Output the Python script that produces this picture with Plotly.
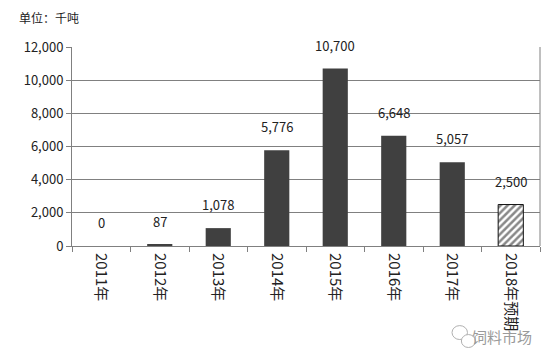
import plotly.graph_objects as go

categories = ["2011年", "2012年", "2013年", "2014年", "2015年", "2016年", "2017年", "2018年预期"]
values = [0, 87, 1078, 5776, 10700, 6648, 5057, 2500]
value_labels = ["0", "87", "1,078", "5,776", "10,700", "6,648", "5,057", "2,500"]
y_ticks = [0, 2000, 4000, 6000, 8000, 10000, 12000]
y_tick_text = ["0", "2,000", "4,000", "6,000", "8,000", "10,000", "12,000"]

FONT = "Noto Sans CJK SC, Liberation Sans, sans-serif"

fig = go.Figure()

# solid bars (actual years)
fig.add_trace(go.Bar(
    x=categories[:-1], y=values[:-1],
    marker=dict(color="#404040", line=dict(width=0)),
    width=0.43,
    hoverinfo="skip",
))
# hatched forecast bar
fig.add_trace(go.Bar(
    x=categories[-1:], y=values[-1:],
    marker=dict(color="white", line=dict(color="#111111", width=1),
                pattern=dict(shape="/", fgcolor="#111111", bgcolor="white",
                             size=5, solidity=0.5)),
    width=0.43,
    hoverinfo="skip",
))

for c, v, t in zip(categories, values, value_labels):
    fig.add_annotation(x=c, y=v, text=t, showarrow=False, yanchor="bottom",
                       yshift=12, font=dict(size=13, color="#222222", family=FONT))

fig.add_annotation(xref="paper", yref="paper", x=-0.115, y=1.15, xanchor="left",
                   yanchor="middle", text="单位：千吨", showarrow=False, borderpad=0,
                   font=dict(size=12, color="#222222", family=FONT))

# watermark
fig.add_annotation(xref="paper", yref="paper", x=0.988, y=-0.457, xanchor="right",
                   yanchor="middle", text="饲料市场", showarrow=False,
                   font=dict(size=15, color="#9a9a9a", family=FONT))
fig.add_shape(type="circle", xref="paper", yref="paper",
              x0=0.812, x1=0.845, y0=-0.47, y1=-0.40,
              line=dict(color="#b0b0b0", width=1))
fig.add_shape(type="circle", xref="paper", yref="paper",
              x0=0.832, x1=0.862, y0=-0.51, y1=-0.445,
              line=dict(color="#b0b0b0", width=1), fillcolor="white")

fig.update_layout(
    width=544, height=353,
    margin=dict(l=64, r=12, t=39, b=115, autoexpand=False),
    paper_bgcolor="white", plot_bgcolor="white",
    showlegend=False,
    barmode="overlay",
    font=dict(family=FONT, color="#222222"),
)
fig.update_xaxes(
    type="category", categoryorder="array", categoryarray=categories,
    tickangle=90, tickfont=dict(size=15, color="#222222"),
    ticks="outside", ticklen=5, tickcolor="#808080", tickson="boundaries",
    ticklabelstandoff=3,
    showline=True, linecolor="#808080", linewidth=1, mirror=False,
    showgrid=False, automargin=False,
)
fig.update_yaxes(
    range=[0, 12000], tickvals=y_ticks, ticktext=y_tick_text,
    tickfont=dict(size=13, color="#222222"),
    ticks="outside", ticklen=5, tickcolor="#808080",
    showline=True, linecolor="#808080", linewidth=1,
    showgrid=True, gridcolor="#808080", gridwidth=1,
    zeroline=False, automargin=False,
)
# right border line
fig.add_shape(type="line", xref="paper", yref="paper", x0=1, x1=1, y0=0, y1=1,
              line=dict(color="#808080", width=1))

fig.write_html("out.html")
